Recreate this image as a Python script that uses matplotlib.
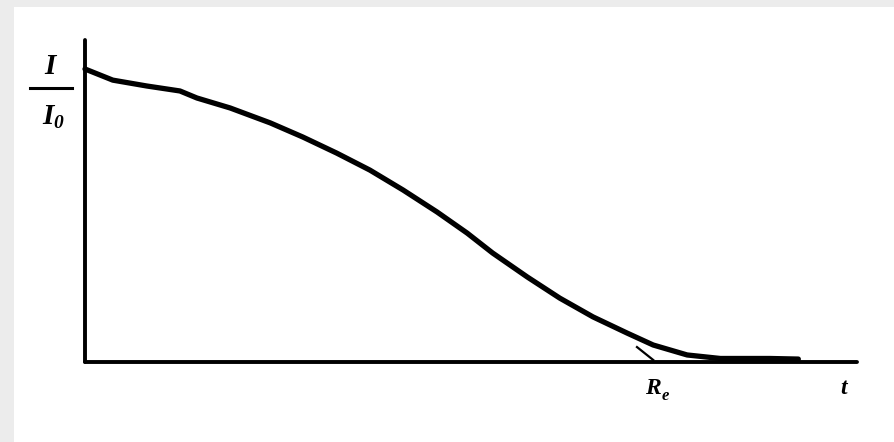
"""
Intensity decay I/I0 against t, with the extrapolated end point R_e.
Recreation of a scanned textbook sketch.
"""

import matplotlib.pyplot as plt
from matplotlib.patches import Rectangle

# --- curve (t in arbitrary units, I/I0 relative) ---
t_vals = [0.0, 0.36, 0.80, 1.23, 1.45, 1.88, 2.40, 2.82, 3.26, 3.69,
          4.12, 4.56, 4.95, 5.28, 5.73, 6.15, 6.58, 7.02, 7.36, 7.80,
          8.23, 8.87, 9.24]
i_vals = [1.0, 0.962, 0.942, 0.925, 0.901, 0.867, 0.816, 0.768, 0.713, 0.655,
          0.587, 0.512, 0.440, 0.372, 0.290, 0.218, 0.154, 0.099, 0.058, 0.024,
          0.012, 0.012, 0.010]

# short tangent extrapolated down to the axis at R_e
tan_t = [7.15, 7.36]
tan_i = [0.051, 0.007]

re_pos = 7.4
t_max = 10.0

fig = plt.figure(figsize=(8.95, 4.42), dpi=100, facecolor='#ececec')
# white page inside the grey scan border
fig.patches.append(Rectangle((14 / 895, 0), 1, 1 - 7 / 442,
                             transform=fig.transFigure, facecolor='white',
                             edgecolor='none', zorder=-5))

ax = fig.add_axes([85 / 895, 80 / 442, 772 / 895, 322 / 442])
ax.set_facecolor('none')
ax.set_xlim(0, t_max)
ax.set_ylim(0, 322 / 293)

ax.plot(t_vals, i_vals, color='black', linewidth=3.8,
        solid_capstyle='round', solid_joinstyle='round', zorder=3,
        clip_on=False)
ax.plot(tan_t, tan_i, color='black', linewidth=1.6, zorder=3)

for side in ['top', 'right']:
    ax.spines[side].set_visible(False)
for side in ['left', 'bottom']:
    ax.spines[side].set_linewidth(2.8)
    ax.spines[side].set_capstyle('round')
ax.set_xticks([])
ax.set_yticks([])

serif = dict(family='Liberation Serif', weight='bold', style='italic')

# y label as a stacked fraction
fig.text(50 / 895, 1 - 67 / 442, 'I', ha='center', va='center', fontsize=21, **serif)
fig.add_artist(plt.Line2D([30 / 895, 72 / 895], [1 - 88 / 442, 1 - 88 / 442],
                          transform=fig.transFigure, color='black', linewidth=2.2))
fig.text(48 / 895, 1 - 117 / 442, 'I', ha='center', va='center', fontsize=21, **serif)
fig.text(58 / 895, 1 - 124 / 442, '0', ha='center', va='center', fontsize=14, **serif)

# x-axis labels
ax.text(re_pos - 0.05, -0.09, 'R', ha='center', va='center', fontsize=17, **serif)
ax.text(re_pos + 0.12, -0.115, 'e', ha='center', va='center', fontsize=12, **serif)
ax.text(9.83, -0.09, 't', ha='center', va='center', fontsize=17, **serif)

fig.savefig('out.png', dpi=100, facecolor=fig.get_facecolor())
